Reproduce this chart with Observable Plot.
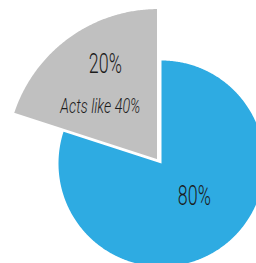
<!DOCTYPE html>
<html>
<head>
<meta charset="utf-8">
<script src="https://cdn.jsdelivr.net/npm/d3@7"></script>
<script src="https://cdn.jsdelivr.net/npm/@observablehq/plot@0.6"></script>
<style>
  html, body { margin: 0; padding: 0; background: #fff; }
  #chart svg { display: block; }
</style>
</head>
<body>
<div id="chart"></div>
<script>
// ---- data ----
const sliceNames = ["Main", "Other"];
const shares = [80, 20];
const valueLabels = ["80%", "20%"];
const noteLabels = ["", "Acts like 40%"];

// ---- layout / style (not data) ----
const W = 256, H = 263;
const CX = 161, CY = 163, R = 103;
const explode = [{dx: 0, dy: 0, k: 1}, {dx: -3.5, dy: -3, k: 1.48}];
const fills = ["#2eabe2", "#c0c0c0"];
const labelFrac = [0.46, 0.61];
const font = "Roboto, 'Noto Sans', sans-serif";

const total = d3.sum(shares);
let acc = 0;
const slices = shares.map((v, i) => {
  const a0 = acc / total * 2 * Math.PI;
  acc += v;
  const a1 = acc / total * 2 * Math.PI;
  const e = explode[i];
  const cx = CX + e.dx, cy = CY + e.dy, r = R * e.k;
  const pts = [{slice: sliceNames[i], x: cx, y: cy}];
  const n = Math.max(2, Math.ceil((a1 - a0) / (Math.PI / 360)));
  for (let j = 0; j <= n; j++) {
    const t = a0 + (a1 - a0) * j / n;
    pts.push({slice: sliceNames[i], x: cx + r * Math.sin(t), y: cy - r * Math.cos(t)});
  }
  const mid = (a0 + a1) / 2;
  const lx = cx + labelFrac[i] * r * Math.sin(mid);
  const ly = cy - labelFrac[i] * r * Math.cos(mid);
  return {name: sliceNames[i], pts, lx, ly, value: valueLabels[i], note: noteLabels[i]};
});

const main = slices[0], other = slices[1];

const chart = Plot.plot({
  width: W,
  height: H,
  margin: 0,
  x: {type: "identity", axis: null},
  y: {type: "identity", axis: null},
  style: {background: "#fff"},
  marks: [
    Plot.line(main.pts, {x: "x", y: "y", fill: fills[0], stroke: "none", curve: "linear-closed"}),
    Plot.line(other.pts, {x: "x", y: "y", fill: fills[1], stroke: "#fff", strokeWidth: 2, curve: "linear-closed"}),
    Plot.text([main], {x: "lx", y: "ly", text: "value", dx: 5, dy: -5, fontSize: 27, fontWeight: 300, fontFamily: font, fill: "#1c1c1c", className: "lbl-val"}),
    Plot.text([other], {x: "lx", y: "ly", text: "value", dx: 2, dy: -21, fontSize: 27, fontWeight: 300, fontFamily: font, fill: "#1c1c1c", className: "lbl-val"}),
    Plot.text([other], {x: "lx", y: "ly", text: "note", dx: -3, dy: 21, fontSize: 21, fontWeight: 300, fontStyle: "italic", fontFamily: font, fill: "#1c1c1c", className: "lbl-note"})
  ]
});
// condense the labels to match the narrow typeface of the original
chart.querySelectorAll(".lbl-val text").forEach(t => { t.setAttribute("textLength", 33); t.setAttribute("lengthAdjust", "spacingAndGlyphs"); });
chart.querySelectorAll(".lbl-note text").forEach(t => { t.setAttribute("textLength", 80); t.setAttribute("lengthAdjust", "spacingAndGlyphs"); });
document.getElementById("chart").appendChild(chart);
</script>
</body>
</html>
